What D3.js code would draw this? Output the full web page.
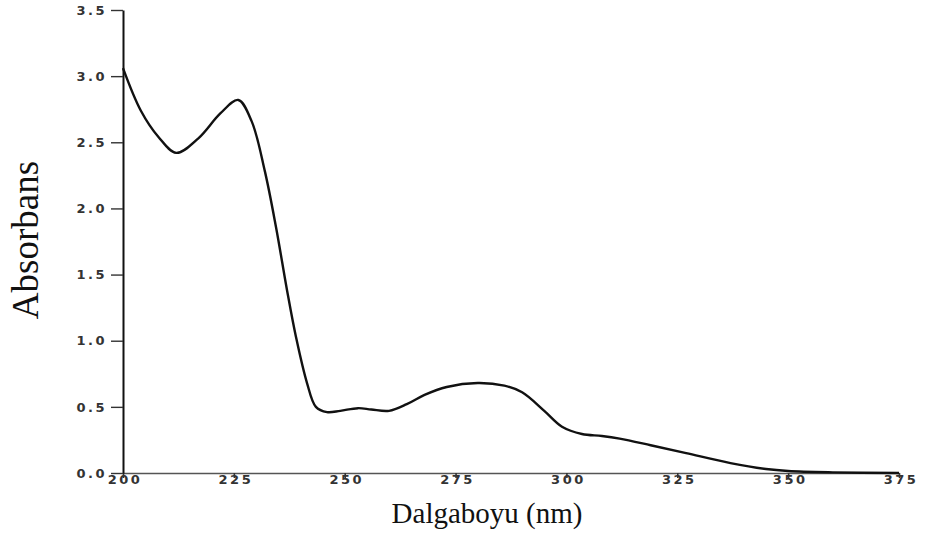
<!DOCTYPE html>
<html>
<head>
<meta charset="utf-8">
<script src="https://cdn.jsdelivr.net/npm/d3@7"></script>
<style>
  body { margin: 0; background: #fff; }
  svg { display: block; }
</style>
</head>
<body>
<div id="chart"></div>
<script>
// spectrum
var wavelength = [200, 204, 208, 212, 217, 222, 226, 229, 232, 234.5, 237, 239, 241.5, 243.5, 246, 249, 253, 256, 260, 264, 268, 273, 280, 286, 290, 295, 299, 303.5, 308, 312, 319, 327, 337, 345, 350, 360, 375]
var absorbance = [3.06, 2.74, 2.54, 2.42, 2.53, 2.72, 2.82, 2.66, 2.28, 1.86, 1.38, 1.03, 0.68, 0.50, 0.46, 0.47, 0.49, 0.48, 0.47, 0.52, 0.59, 0.65, 0.68, 0.66, 0.61, 0.47, 0.35, 0.295, 0.28, 0.26, 0.21, 0.15, 0.075, 0.03, 0.015, 0.005, 0.0]
var xTicks = [200, 225, 250, 275, 300, 325, 350, 375]
var yTicks = [0, 0.5, 1.0, 1.5, 2.0, 2.5, 3.0, 3.5]

var width = 925, height = 540
var margin = {left: 123, right: 26, top: 10, bottom: 67}

var svg = d3.select("#chart")
    .append("svg")
    .attr("width", width)
    .attr("height", height)

var x = d3.scaleLinear()
    .domain([200, 375])
    .range([margin.left, width - margin.right])
var y = d3.scaleLinear()
    .domain([0, 3.5])
    .range([height - margin.bottom, margin.top])

var tickFont = "'DejaVu Sans', sans-serif"

// x axis
var xAxis = svg.append("g")
    .attr("transform", "translate(0," + y(0) + ")")
    .call(d3.axisBottom(x).tickValues(xTicks).tickSize(5).tickSizeOuter(0).tickFormat(d3.format("d")))
xAxis.select(".domain").attr("stroke", "#555").attr("stroke-width", 1.6)
xAxis.selectAll(".tick line").attr("stroke", "#333").attr("stroke-width", 1.6)
xAxis.selectAll(".tick text")
    .attr("y", 2)
    .attr("dx", 1.5)
    .attr("font-family", tickFont)
    .attr("font-weight", "bold")
    .attr("font-size", 13)
    .attr("letter-spacing", 2.5)
    .attr("fill", "#333")

// y axis
var yAxis = svg.append("g")
    .attr("transform", "translate(" + x(200) + ",0)")
    .call(d3.axisLeft(y).tickValues(yTicks).tickSize(12).tickSizeOuter(0).tickFormat(d3.format(".1f")))
yAxis.select(".domain").attr("stroke", "#111").attr("stroke-width", 2)
yAxis.selectAll(".tick line").attr("stroke", "#333").attr("stroke-width", 1.4)
yAxis.selectAll(".tick text")
    .attr("x", -16)
    .attr("font-family", tickFont)
    .attr("font-weight", "bold")
    .attr("font-size", 13)
    .attr("letter-spacing", 2.5)
    .attr("fill", "#333")

// curve
var data = wavelength.map((w, i) => { return {w: w, a: absorbance[i]} })
var line = d3.line()
    .x((d) => { return x(d.w) })
    .y((d) => { return y(d.a) })
    .curve(d3.curveCatmullRom.alpha(0.5))

svg.append("path")
    .datum(data)
    .attr("d", line)
    .attr("fill", "none")
    .attr("stroke", "#111")
    .attr("stroke-width", 2.4)
    .attr("stroke-linejoin", "round")

// axis titles
svg.append("text")
    .attr("transform", "translate(38,240) rotate(-90)")
    .attr("text-anchor", "middle")
    .attr("font-family", "'Liberation Serif', 'Times New Roman', serif")
    .attr("font-size", 37)
    .attr("fill", "#111")
    .text("Absorbans")

svg.append("text")
    .attr("x", 487)
    .attr("y", 523)
    .attr("text-anchor", "middle")
    .attr("font-family", "'Liberation Serif', 'Times New Roman', serif")
    .attr("font-size", 29)
    .attr("fill", "#111")
    .text("Dalgaboyu (nm)")
</script>
</body>
</html>
